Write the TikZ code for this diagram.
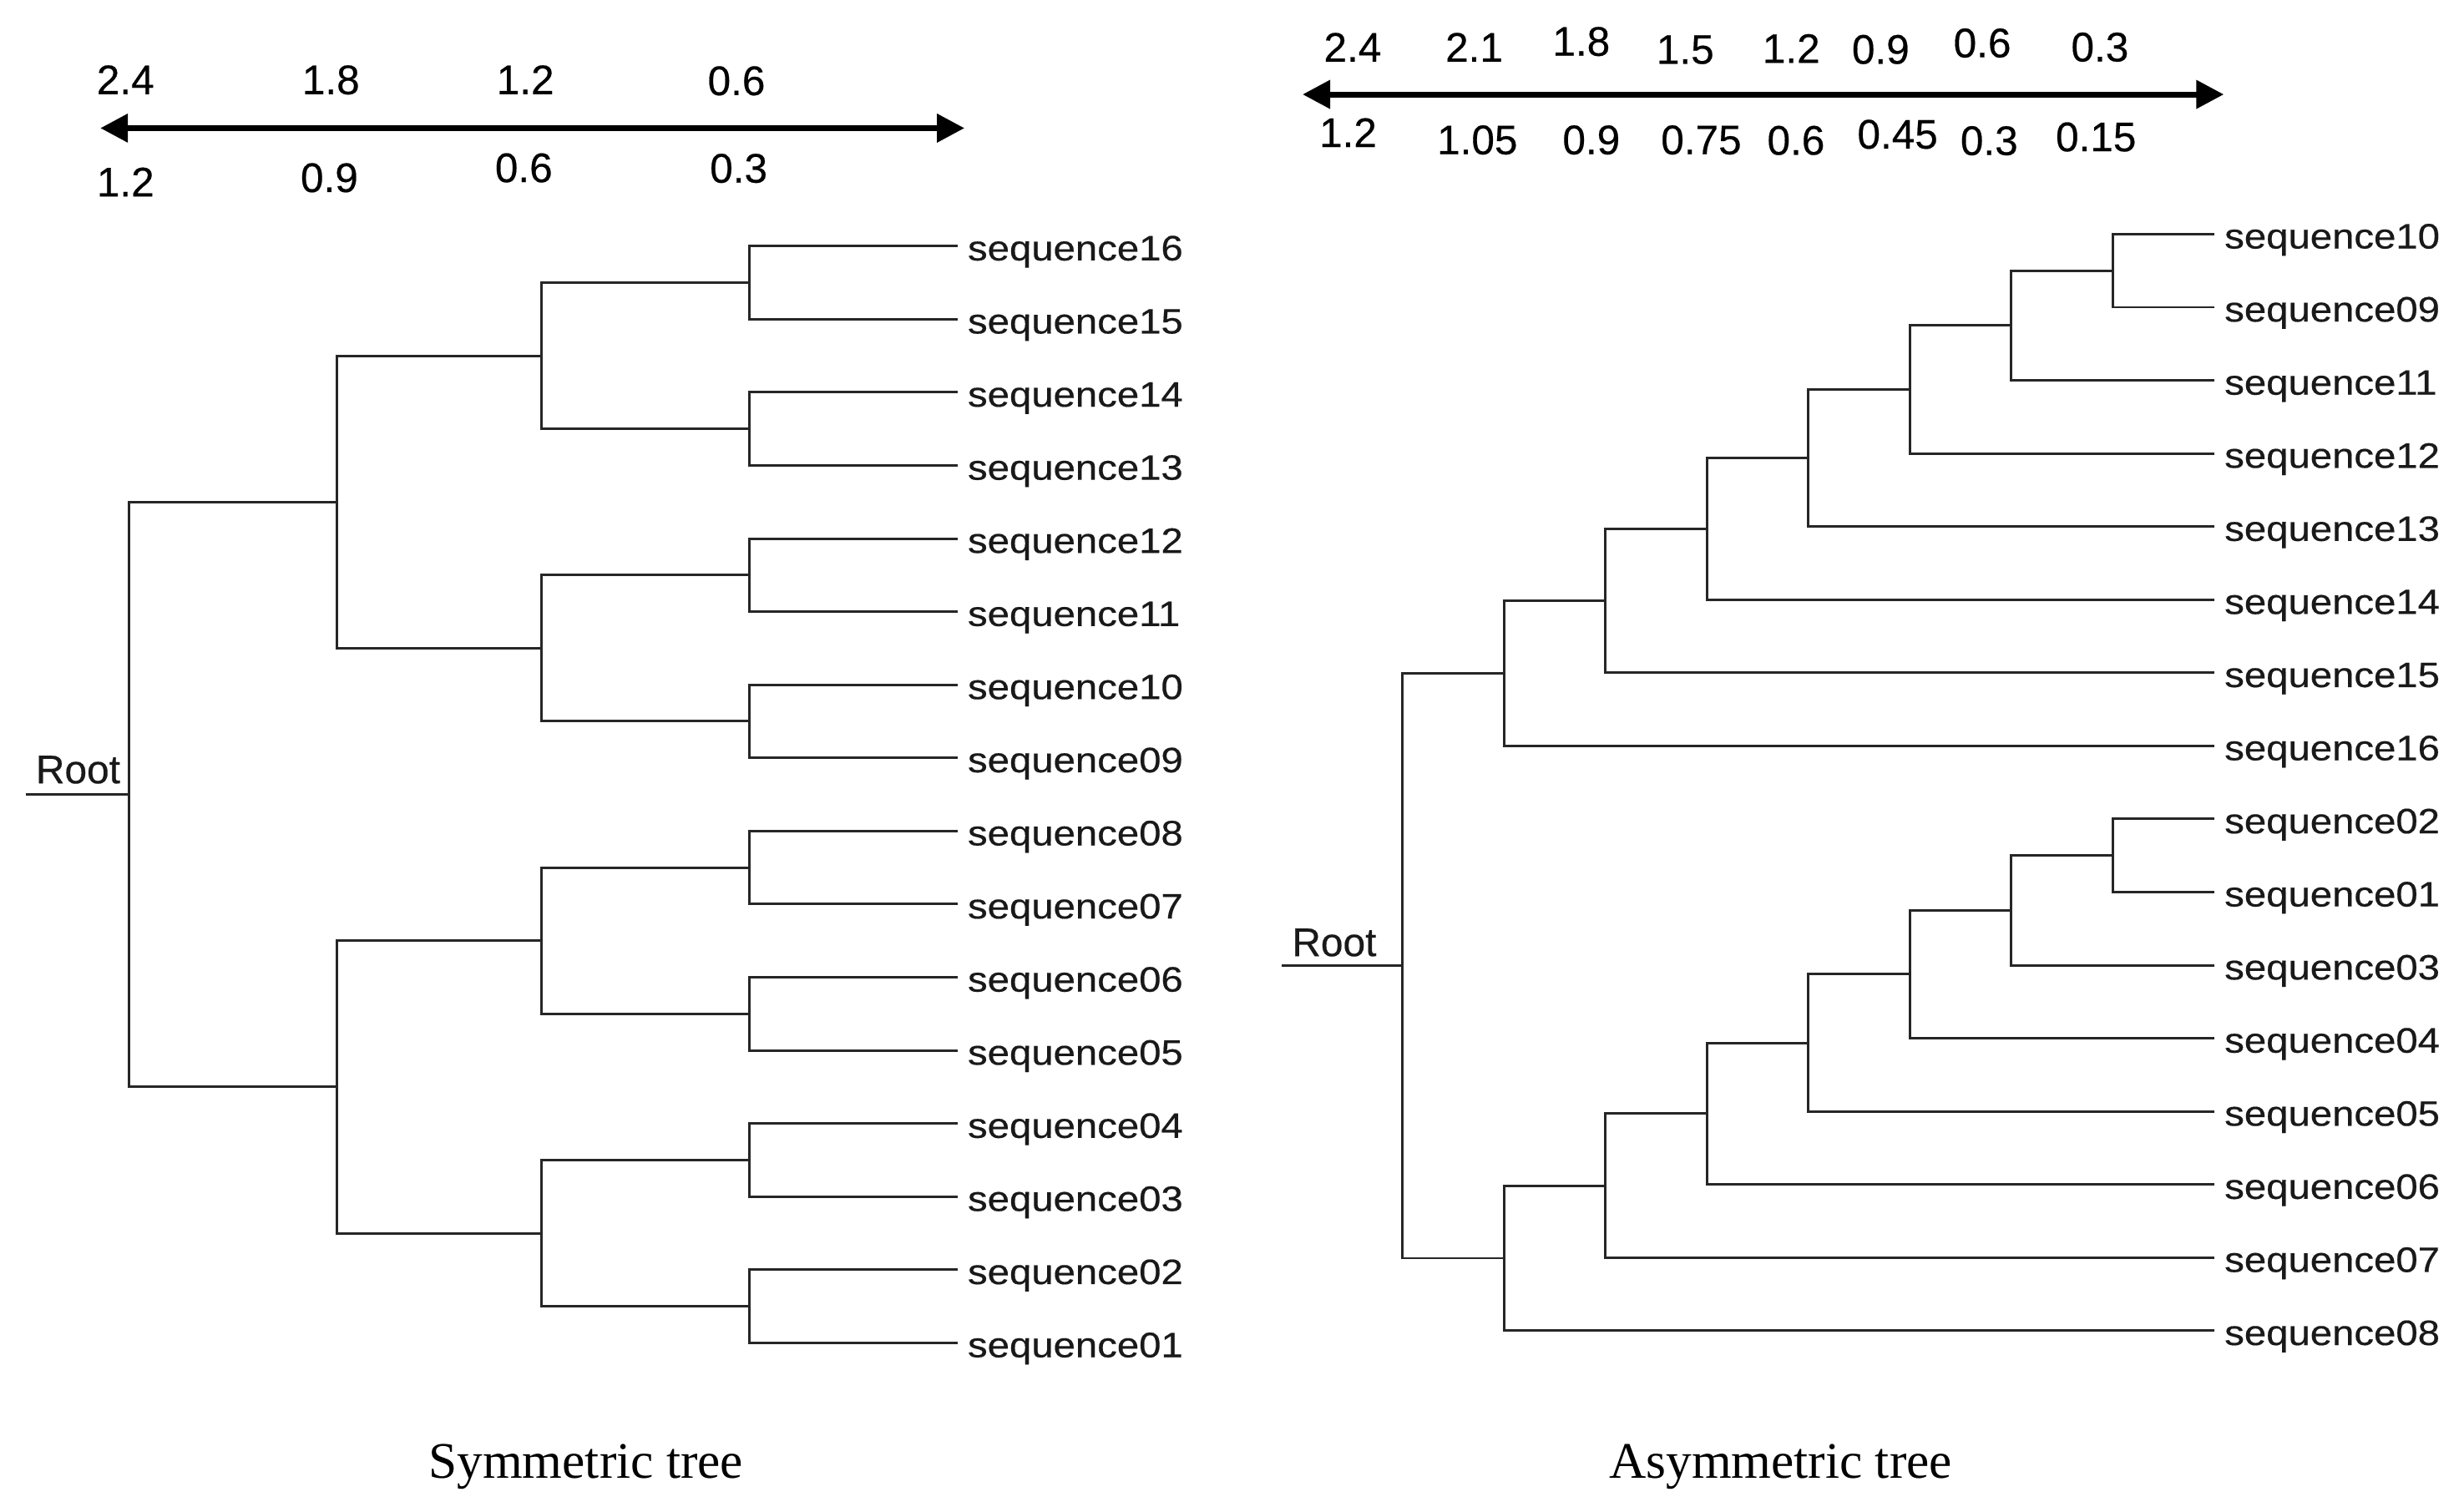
\documentclass[tikz,border=0pt]{standalone}
\usepackage{fontspec}
\setmainfont{Liberation Serif}
\newfontfamily\arialf{Liberation Sans}
\newfontfamily\arialb[FakeBold=0.4]{Liberation Sans}
\usepackage{graphicx}
\usetikzlibrary{arrows.meta}
\newcommand\seqtxt[1]{\scalebox{1.12}[1]{sequence#1}}

\begin{document}
\begin{tikzpicture}[x=0.02cm,y=-0.02cm,
  branch/.style={line width=0.9pt, black!85},
  seqlab/.style={anchor=west, inner xsep=3.5pt, inner ysep=0pt, text height=10.4pt, text depth=0pt, font=\arialb\fontsize{12.8}{15}\selectfont, text=black!90},
  rootlab/.style={anchor=base west, inner sep=0pt, font=\arialb\fontsize{14.5}{17}\selectfont, text=black!90},
  scalelab/.style={inner sep=0pt, text height=10.74pt, text depth=0pt, font=\arialb\fontsize{15}{18}\selectfont},
  scalebar/.style={line width=2.1pt, {Triangle[length=10pt,width=10pt]}-{Triangle[length=10pt,width=10pt]}},
  treetitle/.style={anchor=base, inner sep=0pt, font=\fontsize{18.6}{22}\selectfont}
]
\useasboundingbox (0,0) rectangle (1568,964);

% ---------------- left scale ----------------
\coordinate (la1) at (64,81.7);
\coordinate (la2) at (615,81.7);
\draw[scalebar] (la1) -- (la2);
\foreach \v/\x/\y [count=\k] in {2.4/80/50.6, 1.8/211/50.6, 1.2/335/50.6, 0.6/469.6/51.2}
  \node[scalelab] (lt\k) at (\x,\y) {\v};
\foreach \v/\x/\y [count=\k] in {1.2/80/115.8, 0.9/210/113, 0.6/334/106.7, 0.3/471/107}
  \node[scalelab] (lb\k) at (\x,\y) {\v};

% ---------------- right scale ----------------
\coordinate (ra1) at (830.6,60.2);
\coordinate (ra2) at (1418,60.2);
\draw[scalebar] (ra1) -- (ra2);
\foreach \v/\x/\y [count=\k] in {2.4/862.5/29.9, 2.1/940/29.9, 1.8/1008.3/26.1, 1.5/1074.6/31.2, 1.2/1142.2/30.7, 0.9/1199.2/31.2, 0.6/1264/27.1, 0.3/1339/29.7}
  \node[scalelab] (rt\k) at (\x,\y) {\v};
\foreach \v/\x/\y [count=\k] in {1.2/859.6/84.3, 1.05/942/88.9, 0.9/1014.7/88.9, 0.75/1084.8/88.9, 0.6/1145.2/89.2, 0.45/1210/85.3, 0.3/1268.4/89.4, 0.15/1336.5/87}
  \node[scalelab] (rb\k) at (\x,\y) {\v};

% ---------------- symmetric tree ----------------
\foreach \n [count=\i from 0] in {16,15,14,13,12,11,10,09,08,07,06,05,04,03,02,01}
  \node[seqlab] (sl\n) at (610.6,156.9+46.63*\i) {\seqtxt{\n}};
\foreach \k in {0,...,7}
  \coordinate (sA\k) at (477.8,156.9+46.63*2*\k+23.315);
\foreach \k in {0,...,3}
  \coordinate (sB\k) at (345.4,156.9+46.63*4*\k+69.945);
\foreach \k in {0,1}
  \coordinate (sC\k) at (215,156.9+46.63*8*\k+163.2);
\coordinate (sR) at (82.5,506.6);
\coordinate (sRs) at (16.3,506.6);

\foreach \a/\b/\p in {16/15/sA0, 14/13/sA1, 12/11/sA2, 10/09/sA3, 08/07/sA4, 06/05/sA5, 04/03/sA6, 02/01/sA7}
  \draw[branch] (sl\a.west) -| (\p) (sl\b.west) -| (\p);
\foreach \a/\b/\p in {sA0/sA1/sB0, sA2/sA3/sB1, sA4/sA5/sB2, sA6/sA7/sB3, sB0/sB1/sC0, sB2/sB3/sC1, sC0/sC1/sR}
  \draw[branch] (\a) -| (\p) (\b) -| (\p);
\draw[branch] (sRs) -- (sR);
\node[rootlab] (sroot) at (22.5,499.5) {Root};
\node[treetitle] (stitle) at (373.6,942.8) {Symmetric tree};

% ---------------- asymmetric tree ----------------
\foreach \n [count=\i from 0] in {10,09,11,12,13,14,15,16,02,01,03,04,05,06,07,08}
  \node[seqlab] (al\n) at (1412,149.3+46.62*\i) {\seqtxt{\n}};
\coordinate (aP1) at (1347.1,172.6);
\coordinate (aP2) at (1282.4,207.6);
\coordinate (aP3) at (1217.8,248.4);
\coordinate (aP4) at (1153.1,292.1);
\coordinate (aP5) at (1088.4,337.25);
\coordinate (aP6) at (1023.7,383.1);
\coordinate (aP7) at (959.1,429.4);
\coordinate (aQ1) at (1347.1,545.57);
\coordinate (aQ2) at (1282.4,580.5);
\coordinate (aQ3) at (1217.8,621.3);
\coordinate (aQ4) at (1153.1,665.0);
\coordinate (aQ5) at (1088.4,710.2);
\coordinate (aQ6) at (1023.7,756.1);
\coordinate (aQ7) at (959.1,802.35);
\coordinate (aR) at (894.4,615.9);
\coordinate (aRs) at (817.4,615.9);

\draw[branch] (al10.west) -| (aP1) (al09.west) -| (aP1);
\foreach \c/\l/\p in {aP1/11/aP2, aP2/12/aP3, aP3/13/aP4, aP4/14/aP5, aP5/15/aP6, aP6/16/aP7}
  \draw[branch] (\c) -| (\p) (al\l.west) -| (\p);
\draw[branch] (al02.west) -| (aQ1) (al01.west) -| (aQ1);
\foreach \c/\l/\p in {aQ1/03/aQ2, aQ2/04/aQ3, aQ3/05/aQ4, aQ4/06/aQ5, aQ5/07/aQ6, aQ6/08/aQ7}
  \draw[branch] (\c) -| (\p) (al\l.west) -| (\p);
\draw[branch] (aP7) -| (aR) (aQ7) -| (aR);
\draw[branch] (aRs) -- (aR);
\node[rootlab] (aroot) at (823.5,609.7) {Root};
\node[treetitle] (atitle) at (1135.4,942.8) {Asymmetric tree};
\end{tikzpicture}
\end{document}
